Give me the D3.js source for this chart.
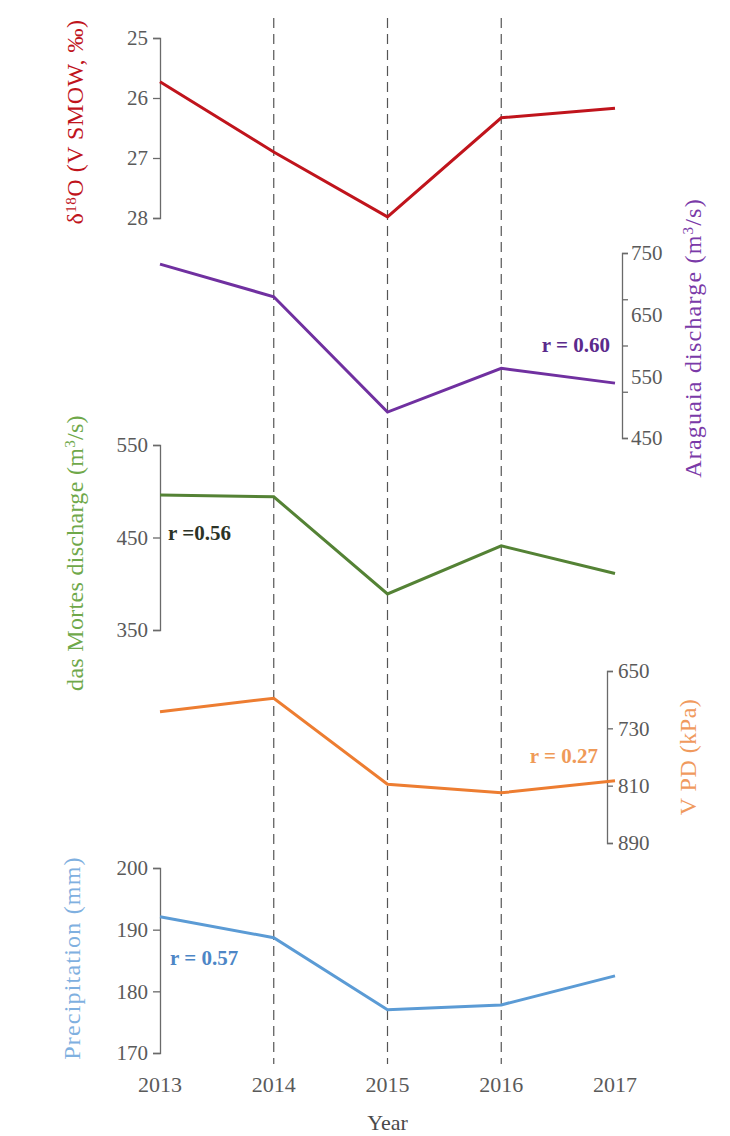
<!DOCTYPE html>
<html>
<head>
<meta charset="utf-8">
<script src="https://cdn.jsdelivr.net/npm/d3@7"></script>
<style>
  body { margin: 0; background: #fff; }
  svg text { font-family: "Liberation Serif", Tinos, "Times New Roman", Times, "DejaVu Serif", serif !important; }
</style>
</head>
<body>
<svg id="chart" width="730" height="1136"></svg>
<script>
// Yearly series
const years = [2013, 2014, 2015, 2016, 2017];
const d18O = [25.73, 26.9, 27.98, 26.33, 26.17];
const araguaiaQ = [732, 679, 492, 563, 539];
const dasMortesQ = [496, 494, 389, 441, 411];
const vpd = [707, 688, 808, 820, 803];
const precipitation = [192.1, 188.7, 177.0, 177.8, 182.5];

// Axis tick values and labels
const d18OTicks = [25, 26, 27, 28];
const araguaiaTicks = [450, 525, 600, 675, 750];
const araguaiaLabels = [450, 550, 650, 750];
const dasMortesTicks = [350, 450, 550];
const vpdTicks = [650, 730, 810, 890];
const precipTicks = [170, 180, 190, 200];

// Correlation coefficients
const rAraguaia = "r = 0.60";
const rDasMortes = "r =0.56";
const rVpd = "r = 0.27";
const rPrecip = "r = 0.57";

const serif = "'Liberation Serif', Tinos, 'Times New Roman', Times, 'DejaVu Serif', serif";

const svg = d3.select("#chart").attr("font-family", serif);
const x = d3.scaleLinear().domain([2013, 2017]).range([160, 615]);

const axisColor = "#6a6a6a";
const tickText = "#5a5a5a";
const fontSize = 21;

// Dashed year guides
svg.append("g").selectAll("line")
  .data([2014, 2015, 2016])
  .join("line")
  .attr("x1", d => x(d)).attr("x2", d => x(d))
  .attr("y1", 18).attr("y2", 1064)
  .attr("stroke", "#555").attr("stroke-width", 1.2)
  .attr("stroke-dasharray", "10,6");

function styleAxis(g) {
  g.attr("font-family", serif);
  g.select(".domain").attr("stroke", axisColor).attr("stroke-width", 1.3);
  g.selectAll(".tick line").attr("stroke", axisColor).attr("stroke-width", 1.3);
  g.selectAll(".tick text")
    .attr("fill", tickText)
    .style("font-size", fontSize + "px");
}

function drawSeries(values, y, color) {
  const line = d3.line().x((d, i) => x(years[i])).y(d => y(d));
  svg.append("path")
    .datum(values)
    .attr("d", line)
    .attr("fill", "none")
    .attr("stroke", color)
    .attr("stroke-width", 3)
    .attr("stroke-linejoin", "miter");
}

function vTitle(xPos, yPos, color, spacing, build) {
  const t = svg.append("text")
    .attr("transform", `translate(${xPos},${yPos}) rotate(-90)`)
    .attr("text-anchor", "middle")
    .attr("fill", color)
    .attr("letter-spacing", spacing)
    .style("font-size", "24px");
  build(t);
}

function rLabel(text, xPos, yPos, anchor, color) {
  svg.append("text")
    .attr("x", xPos).attr("y", yPos)
    .attr("text-anchor", anchor)
    .attr("fill", color)
    .attr("font-weight", "bold")
    .style("font-size", "21px")
    .text(text);
}

// δ18O panel (inverted)
const yO = d3.scaleLinear().domain([25, 28]).range([38, 218]);
svg.append("g").attr("transform", `translate(${x(2013)},0)`)
  .call(d3.axisLeft(yO).tickValues(d18OTicks).tickSize(7).tickPadding(5).tickFormat(d3.format("d")))
  .call(styleAxis);
drawSeries(d18O, yO, "#c0141c");
vTitle(83, 122, "#c0141c", 0.5, t => {
  t.append("tspan").text("δ");
  t.append("tspan").attr("dy", -7).style("font-size", "15px").text("18");
  t.append("tspan").attr("dy", 7).text("O (V SMOW, ‰)");
}, -90);

// Araguaia panel
const yA = d3.scaleLinear().domain([450, 750]).range([438, 253]);
const gA = svg.append("g").attr("transform", `translate(622,0)`)
  .call(d3.axisRight(yA).tickValues(araguaiaTicks).tickSize(6).tickFormat(""))
  .call(styleAxis);
gA.selectAll(".lbl").data(araguaiaLabels).join("text")
  .attr("class", "lbl")
  .attr("x", 9).attr("y", d => yA(d)).attr("dy", "0.35em")
  .attr("fill", tickText)
  .style("font-size", fontSize + "px")
  .text(d => d);
drawSeries(araguaiaQ, yA, "#7030a0");
vTitle(701, 338, "#7a3aa8", 1.2, t => {
  t.append("tspan").text("Araguaia discharge (m");
  t.append("tspan").attr("dy", -8).style("font-size", "15px").text("3");
  t.append("tspan").attr("dy", 8).text("/s)");
});
rLabel(rAraguaia, 610, 352, "end", "#5b2a8c");

// das Mortes panel
const yM = d3.scaleLinear().domain([350, 550]).range([630, 445]);
svg.append("g").attr("transform", `translate(${x(2013)},0)`)
  .call(d3.axisLeft(yM).tickValues(dasMortesTicks).tickSize(7).tickPadding(5))
  .call(styleAxis);
drawSeries(dasMortesQ, yM, "#548235");
vTitle(83, 553, "#6fa84a", 0.3, t => {
  t.append("tspan").text("das Mortes discharge (m");
  t.append("tspan").attr("dy", -8).style("font-size", "15px").text("3");
  t.append("tspan").attr("dy", 8).text("/s)");
});
rLabel(rDasMortes, 168, 540, "start", "#2c3326");

// VPD panel (inverted)
const yV = d3.scaleLinear().domain([650, 890]).range([671, 843]);
svg.append("g").attr("transform", `translate(607,0)`)
  .call(d3.axisRight(yV).tickValues(vpdTicks).tickSize(6).tickPadding(5))
  .call(styleAxis);
drawSeries(vpd, yV, "#ed7d31");
vTitle(696, 757, "#f09a5e", 0.5, t => {
  t.append("tspan").text("V PD (kPa)");
});
rLabel(rVpd, 598, 763, "end", "#ef9a58");

// Precipitation panel
const yP = d3.scaleLinear().domain([170, 200]).range([1053, 868]);
svg.append("g").attr("transform", `translate(${x(2013)},0)`)
  .call(d3.axisLeft(yP).tickValues(precipTicks).tickSize(7).tickPadding(5))
  .call(styleAxis);
drawSeries(precipitation, yP, "#5b9bd5");
vTitle(80, 958, "#7fb0e0", 1.2, t => {
  t.append("tspan").text("Precipitation (mm)");
});
rLabel(rPrecip, 170, 965, "start", "#4d86c6");

// Year axis labels
svg.append("g").selectAll("text")
  .data(years)
  .join("text")
  .attr("x", d => x(d)).attr("y", 1092)
  .attr("text-anchor", "middle")
  .attr("fill", tickText)
  .style("font-size", "22px")
  .text(d => d);

svg.append("text")
  .attr("x", x(2015)).attr("y", 1130)
  .attr("text-anchor", "middle")
  .attr("fill", "#4a4a4a")
  .style("font-size", "22px")
  .text("Year");
</script>
</body>
</html>
